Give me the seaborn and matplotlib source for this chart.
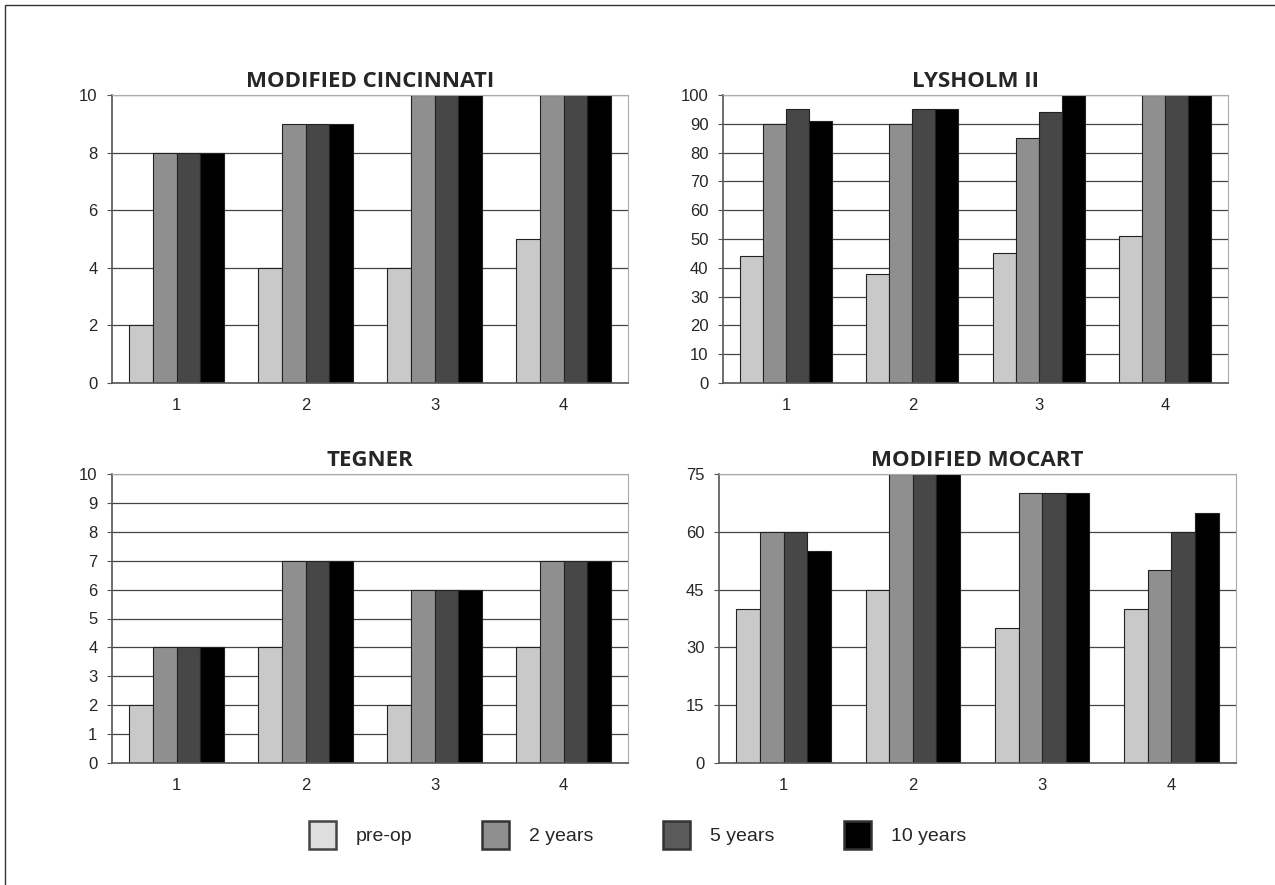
import seaborn as sns
import matplotlib.pyplot as plt
import pandas as pd
from matplotlib.patches import Patch, Rectangle

# patient groups and follow-up times
groups = ["1", "2", "3", "4"]
times = ["pre-op", "2 years", "5 years", "10 years"]
colors = ["#c9c9c9", "#8f8f8f", "#474747", "#000000"]

# scores per time point, one list per time, in group order
cincinnati = {
    "pre-op": [2, 4, 4, 5],
    "2 years": [8, 9, 10, 10],
    "5 years": [8, 9, 10, 10],
    "10 years": [8, 9, 10, 10],
}
lysholm = {
    "pre-op": [44, 38, 45, 51],
    "2 years": [90, 90, 85, 100],
    "5 years": [95, 95, 94, 100],
    "10 years": [91, 95, 100, 100],
}
tegner = {
    "pre-op": [2, 4, 2, 4],
    "2 years": [4, 7, 6, 7],
    "5 years": [4, 7, 6, 7],
    "10 years": [4, 7, 6, 7],
}
mocart = {
    "pre-op": [40, 45, 35, 40],
    "2 years": [60, 75, 70, 50],
    "5 years": [60, 75, 70, 60],
    "10 years": [55, 75, 70, 65],
}

panels = [
    ("MODIFIED CINCINNATI", cincinnati, 10, 2),
    ("LYSHOLM II", lysholm, 100, 10),
    ("TEGNER", tegner, 10, 1),
    ("MODIFIED MOCART", mocart, 75, 15),
]


def to_long(scores):
    rows = []
    for t in times:
        for g, v in zip(groups, scores[t]):
            rows.append({"group": g, "time": t, "score": v})
    return pd.DataFrame(rows)


sns.set_style("white")
plt.rcParams["font.family"] = ["Liberation Sans", "DejaVu Sans"]

fig = plt.figure(figsize=(12.75, 8.85), dpi=100)
W, H = 1275, 885
# axes boxes in pixels: left, top, right, bottom
boxes = [
    (112, 95, 628, 383),
    (723, 95, 1228, 383),
    (112, 474, 628, 763),
    (719, 474, 1236, 763),
]

for (title, scores, ymax, step), (l, t, r, b) in zip(panels, boxes):
    ax = fig.add_axes([l / W, 1 - b / H, (r - l) / W, (b - t) / H])
    df = to_long(scores)
    sns.barplot(data=df, x="group", y="score", hue="time", order=groups,
                hue_order=times, palette=colors, width=0.73,
                edgecolor="#222222", linewidth=0.8, ax=ax, legend=False)
    ax.set_ylim(0, ymax)
    ax.set_xlim(-0.5, 3.5)
    ax.set_yticks(range(0, ymax + 1, step))
    ax.set_xlabel("")
    ax.set_ylabel("")
    ax.yaxis.grid(True, color="#444444", linewidth=0.9)
    ax.set_axisbelow(True)
    ax.set_xticks([-0.5, 0.5, 1.5, 2.5, 3.5], minor=True)
    ax.tick_params(axis="x", which="major", length=0, labelsize=12, pad=11)
    ax.tick_params(axis="x", which="minor", length=3, direction="out",
                   color="#555555", width=1)
    ax.tick_params(axis="y", length=3.5, direction="out", color="#555555",
                   labelsize=12, left=True, pad=7)
    for side in ["top", "right"]:
        ax.spines[side].set_color("#aaaaaa")
        ax.spines[side].set_linewidth(0.8)
    for side in ["left", "bottom"]:
        ax.spines[side].set_color("#555555")
        ax.spines[side].set_linewidth(1.2)
    ax.set_title(title, fontsize=16, fontweight="bold",
                 family=["Open Sans", "DejaVu Sans"], pad=6)

handles = [Patch(facecolor=c, edgecolor="#333333", linewidth=1.8) for c in colors]
handles[0] = Patch(facecolor="#dedede", edgecolor="#444444", linewidth=1.8)
handles[2] = Patch(facecolor="#5a5a5a", edgecolor="#333333", linewidth=1.8)
fig.legend(handles, times, loc="center", bbox_to_anchor=(0.5, 1 - 835 / H),
           ncol=4, frameon=False, fontsize=14, handlelength=1.4,
           handleheight=1.9, columnspacing=3.6, handletextpad=1.0)

# thin frame around the figure
fig.patches.append(Rectangle((5 / W, -0.01), 1.02, 1 - 5 / H + 0.01,
                             transform=fig.transFigure, fill=False,
                             edgecolor="#333333", linewidth=1.0))

fig.savefig("out.png", dpi=100, facecolor="white")
